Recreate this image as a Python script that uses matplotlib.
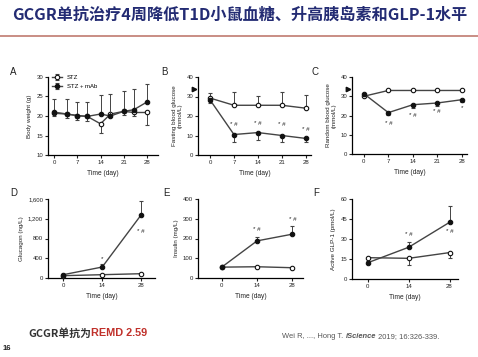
import matplotlib
matplotlib.use("Agg")
import matplotlib.pyplot as plt

plt.rcParams['font.family'] = ['Liberation Sans', 'Noto Sans CJK SC', 'DejaVu Sans']

W, H = 478, 357

# Panel A - body weight
a_days = [0, 4, 7, 10, 14, 17, 21, 24, 28]
a_stz = [20.7, 20.5, 20.1, 19.9, 18.0, 20.5, 21.2, 20.9, 20.9]
a_stz_lo = [0.8, 1.0, 1.0, 1.2, 2.4, 0.8, 1.0, 1.0, 3.2]
a_mab = [21.0, 20.5, 20.1, 19.9, 20.5, 20.0, 21.2, 21.6, 23.6]
a_mab_hi = [3.3, 3.8, 3.6, 3.8, 4.8, 5.6, 5.1, 5.4, 4.6]

# Panel B - fasting blood glucose
b_days = [0, 7, 14, 21, 28]
b_stz = [29.2, 25.5, 25.5, 25.5, 24.0]
b_stz_hi = [2.6, 7.0, 4.6, 7.0, 7.0]
b_mab = [28.3, 10.5, 11.5, 10.0, 8.5]
b_mab_lo = [1.5, 4.0, 4.0, 3.5, 2.0]
b_marks = ['', '* #', '* #', '* #', '* #']

# Panel C - random blood glucose
c_days = [0, 7, 14, 21, 28]
c_stz = [30.0, 33.0, 33.0, 33.0, 33.0]
c_mab = [31.3, 21.5, 25.6, 26.5, 28.2]
c_mab_lo = [1.0, 1.0, 1.5, 1.5, 1.2]
c_marks = ['', '* #', '* #', '* #', '*']

# Panel D - glucagon
d_days = [0, 14, 28]
d_stz = [47, 67, 87]
d_mab = [67, 222, 1277]
d_mab_hi = [20, 60, 290]
d_marks = ['', '*', '* #']

# Panel E - insulin
e_days = [0, 14, 28]
e_stz = [55, 57, 52]
e_mab = [55, 188, 222]
e_mab_hi = [5, 18, 42]
e_marks = ['', '* #', '* #']

# Panel F - active GLP-1
f_days = [0, 14, 28]
f_stz = [16.0, 15.5, 19.8]
f_stz_lo = [1.0, 5.0, 3.8]
f_mab = [12.2, 23.8, 42.5]
f_mab_hi = [1.0, 4.2, 12.2]
f_marks = ['', '* #', '* #']

fig = plt.figure(figsize=(W / 100, H / 100), dpi=100)
fig.patch.set_facecolor('white')

title_color = '#232b73'
fig.text(12 / W, 1 - 15 / H, 'GCGR单抗治疗4周降低T1D小鼠血糖、升高胰岛素和GLP-1水平',
         fontsize=11.6, fontweight='bold', color=title_color,
         family=['Noto Sans CJK SC', 'DejaVu Sans'], va='center', ha='left')
fig.add_artist(plt.Line2D([0, 1], [1 - 36 / H, 1 - 36 / H], color='#c07a70', lw=1.2))


def make_ax(left, top, right, bottom):
    ax = fig.add_axes([left / W, 1 - bottom / H, (right - left) / W, (bottom - top) / H])
    for s in ['top', 'right']:
        ax.spines[s].set_visible(False)
    for s in ['left', 'bottom']:
        ax.spines[s].set_linewidth(0.9)
    ax.tick_params(labelsize=4.3, length=2, width=0.8, pad=1.5, colors='#222')
    ax.set_xlabel('Time (day)', fontsize=4.8, labelpad=4, color='#222')
    ax.patch.set_alpha(0)
    return ax


line_kw = dict(color='#444', lw=1.0, ms=3.2, mew=0.8, clip_on=False)
err_kw = dict(ecolor='#444', elinewidth=0.7, capsize=1.6, capthick=0.7)


def draw(ax, days, stz, mab, stz_err=None, mab_err=None):
    ax.errorbar(days, stz, yerr=stz_err, fmt='-o', mfc='white', mec='#111',
                zorder=3, **line_kw, **err_kw)
    ax.errorbar(days, mab, yerr=mab_err, fmt='-o', mfc='#111', mec='#111',
                zorder=4, **line_kw, **err_kw)


def marks(ax, days, labels, ys):
    for d, m, y in zip(days, labels, ys):
        if m:
            ax.text(d, y, m, fontsize=4.5, ha='center', va='center', color='#222')


def tri(ax, y):
    ax.plot([-0.035], [y], marker='>', color='#111', ms=3.2,
            transform=ax.get_yaxis_transform(), clip_on=False)


def letter(x, y, s):
    fig.text(x / W, 1 - y / H, s, fontsize=7, color='#222', va='center', ha='left')


# A
ax = make_ax(48, 77, 158, 155)
ax.errorbar(a_days, a_stz, yerr=[a_stz_lo, [0] * 9], fmt='-o', mfc='white', mec='#111',
            zorder=3, label='STZ', **line_kw, **err_kw)
ax.errorbar(a_days, a_mab, yerr=[[0] * 9, a_mab_hi], fmt='-o', mfc='#111', mec='#111',
            zorder=4, label='STZ + mAb', **line_kw, **err_kw)
ax.set_xlim(-1.8, 31.3)
ax.set_ylim(10, 30)
ax.set_xticks([0, 7, 14, 21, 28])
ax.set_yticks([10, 15, 20, 25, 30])
ax.set_ylabel('Body weight (g)', fontsize=4.5, labelpad=3, color='#222')
ax.legend(loc='upper left', bbox_to_anchor=(0.0, 1.08), fontsize=4.3, frameon=False,
          handlelength=1.6, borderpad=0.2, labelspacing=0.6)
letter(10, 72, 'A')

# B
ax = make_ax(198, 77, 311, 155)
draw(ax, b_days, b_stz, b_mab, [[0] * 5, b_stz_hi], [b_mab_lo, [0] * 5])
ax.set_xlim(-3.5, 29.5)
ax.set_ylim(0, 40)
ax.set_xticks([0, 7, 14, 21, 28])
ax.set_yticks([0, 10, 20, 30, 40])
ax.set_ylabel('Fasting blood glucose\n(mmol/L)', fontsize=4.5, labelpad=3, color='#222',
              linespacing=1.0)
marks(ax, b_days, b_marks, [0, 15.5, 16, 15.5, 13])
tri(ax, 33.8)
letter(161, 72, 'B')

# C
ax = make_ax(352, 77, 467, 154)
draw(ax, c_days, c_stz, c_mab, None, [c_mab_lo, [0] * 5])
ax.set_xlim(-3.4, 29.5)
ax.set_ylim(0, 40)
ax.set_xticks([0, 7, 14, 21, 28])
ax.set_yticks([0, 10, 20, 30, 40])
ax.set_ylabel('Random blood glucose\n(mmol/L)', fontsize=4.5, labelpad=3, color='#222',
              linespacing=1.0)
marks(ax, c_days, c_marks, [0, 16, 20, 22, 24])
tri(ax, 33.8)
letter(312, 72, 'C')

# D
ax = make_ax(48, 199, 155, 278)
draw(ax, d_days, d_stz, d_mab, None, [[0] * 3, d_mab_hi])
ax.set_xlim(-5.5, 33)
ax.set_ylim(0, 1600)
ax.set_xticks([0, 14, 28])
ax.set_yticks([0, 400, 800, 1200, 1600])
ax.set_yticklabels(['0', '400', '800', '1,200', '1,600'])
ax.set_ylabel('Glucagon (ng/L)', fontsize=4.5, labelpad=3, color='#222')
marks(ax, d_days, d_marks, [0, 390, 940])
letter(10, 193, 'D')

# E
ax = make_ax(198, 199, 303, 278)
draw(ax, e_days, e_stz, e_mab, None, [[0] * 3, e_mab_hi])
ax.set_xlim(-9.4, 32.2)
ax.set_ylim(0, 400)
ax.set_xticks([0, 14, 28])
ax.set_yticks([0, 100, 200, 300, 400])
ax.set_ylabel('Insulin (mg/L)', fontsize=4.5, labelpad=3, color='#222')
marks(ax, e_days, e_marks, [0, 244, 297])
letter(163, 193, 'E')

# F
ax = make_ax(352, 199, 458, 279)
draw(ax, f_days, f_stz, f_mab, [f_stz_lo, [0] * 3], [[0] * 3, f_mab_hi])
ax.set_xlim(-5.4, 30.9)
ax.set_ylim(0, 60)
ax.set_xticks([0, 14, 28])
ax.set_yticks([0, 15, 30, 45, 60])
ax.set_ylabel('Active GLP-1 (pmol/L)', fontsize=4.5, labelpad=3, color='#222')
marks(ax, f_days, f_marks, [0, 33, 35.5])
letter(313, 193, 'F')

# footer
t1 = fig.text(28 / W, 1 - 333 / H, 'GCGR单抗为', fontsize=7.8, fontweight='bold',
              color='#333', family=['Noto Sans CJK SC', 'DejaVu Sans'], va='center')
fig.add_artist(plt.Annotation('REMD 2.59', xy=(1, 0), xycoords=t1, fontsize=7.8,
                              fontweight='bold', color='#c0302a', va='bottom', ha='left'))
fig.text(3 / W, 1 - 349 / H, '16', fontsize=5.5, fontweight='bold', color='#222', va='center')

c1 = fig.text(282 / W, 1 - 337 / H, 'Wei R, ..., Hong T. ', fontsize=5.4, color='#555',
              va='center')
c2 = fig.add_artist(plt.Annotation('iScience', xy=(1, 0), xycoords=c1, fontsize=5.4,
                                   fontweight='bold', style='italic', color='#555',
                                   va='bottom', ha='left'))
fig.add_artist(plt.Annotation(' 2019; 16:326-339.', xy=(1, 0), xycoords=c2, fontsize=5.4,
                              color='#555', va='bottom', ha='left'))

fig.savefig('out.png', dpi=100, facecolor='white')
